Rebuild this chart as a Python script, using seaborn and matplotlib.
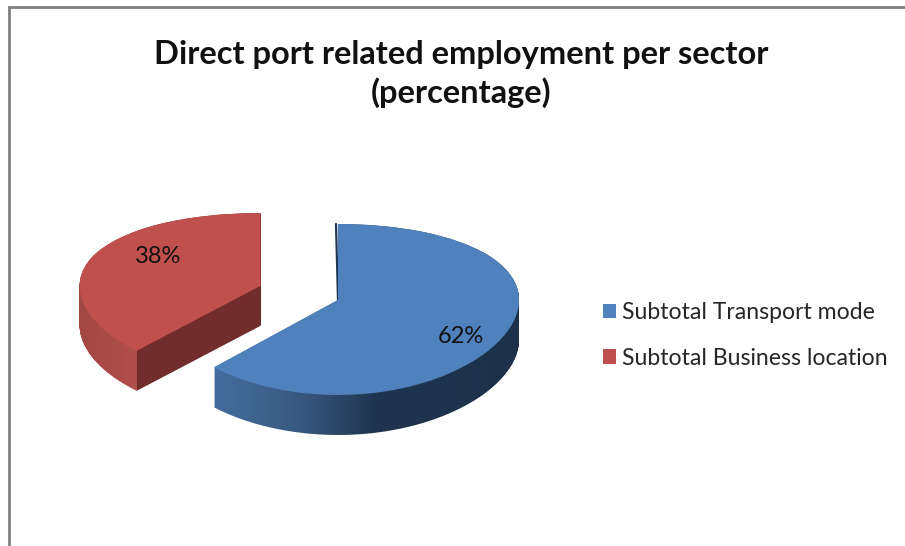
import numpy as np
import matplotlib
matplotlib.use('Agg')
import matplotlib.pyplot as plt
from matplotlib.colors import LinearSegmentedColormap
from matplotlib.path import Path
from matplotlib.patches import Rectangle
from matplotlib.transforms import IdentityTransform, ScaledTranslation
import seaborn as sns

labels = ['Subtotal Transport mode', 'Subtotal Business location']
values = [62, 38]
explode = [0, 0.46]
title = 'Direct port related employment per sector\n(percentage)'

sns.set_theme(style='white')
plt.rcParams['font.family'] = ['Lato', 'DejaVu Sans']
colors = sns.color_palette(['#4f81bd', '#c0504d'])

W, H = 905, 546
fig = plt.figure(figsize=(W / 100, H / 100), dpi=100)

# everything is in pixels here, y measured from the top
RX = 181
CX, CY = 338, 300
A, B = 85.5, 9.5  # fake perspective: back of the pie squashed, front stretched
DEPTH = 40


def forward(y):
    return A * y - B * y * y


def inverse(v):
    return (A - np.sqrt(np.maximum(A * A - 4 * B * v, 1e-6))) / (2 * B)


top_px, bot_px = 120, 480
side = fig.add_axes([0, 0, 1, 1], zorder=1)
side.set_xlim(0, W)
side.set_ylim(H, 0)
side.axis('off')

ax = fig.add_axes([0, 1 - bot_px / H, 1, (bot_px - top_px) / H], zorder=2)
wedges, _, pcts = ax.pie(values, colors=colors, startangle=90, counterclock=False,
                         explode=explode, autopct='%.0f%%', pctdistance=0.72,
                         wedgeprops={'linewidth': 0},
                         textprops={'fontsize': 17, 'color': '#111111'})
ax.set_aspect('auto')
ax.set_yscale('function', functions=(forward, inverse))
ax.set_xlim(-CX / RX, (W - CX) / RX)
ax.set_ylim(inverse(CY - bot_px), inverse(CY - top_px))
ax.axis('off')
fig.canvas.draw()

# side walls: x gradient image clipped to the swept top face
grads = [
    [(0.0, '#446d9e'), (0.28, '#39597f'), (0.52, '#1f3550'), (1.0, '#1c3049')],
    None,
]
for i, w in enumerate(wedges):
    p = w.get_path()
    verts = ax.transData.transform(p.vertices)
    parts = []
    for k in range(DEPTH + 1):
        shifted = verts.copy()
        shifted[:, 1] -= k
        parts.append(Path(shifted, p.codes))
    clip = Path.make_compound_path(*parts)
    x0, x1 = verts[:, 0].min(), verts[:, 0].max()
    if grads[i] is None:
        # outer arc lighter, cut face flat dark, hard step at the corner
        t = np.radians(w.theta2)
        corner = ax.transData.transform((w.center[0] + w.r * np.cos(t), w.center[1] + w.r * np.sin(t)))[0]
        f = (corner - x0) / (x1 - x0)
        stops = [(0.0, '#a34845'), (f - 0.001, '#b04e4b'), (f, '#702d2b'), (1.0, '#702d2b')]
    else:
        stops = grads[i]
    cmap = LinearSegmentedColormap.from_list('wall%d' % i, stops, N=1024)
    im = side.imshow(np.linspace(0, 1, 1024).reshape(1, -1), cmap=cmap, aspect='auto',
                     extent=(x0, x1, H, 0), interpolation='nearest')
    im.set_clip_path(clip, IdentityTransform())
side.set_xlim(0, W)
side.set_ylim(H, 0)

# thin dark back edge of the blue slice
side.plot([CX - 2, CX], [224, CY], color='#1f3550', lw=1.6, zorder=1)

# nudge the percent labels onto the spots they have in the chart
nudge = [(2, -13), (19, 8)]
for t, (dx, dy) in zip(pcts, nudge):
    t.set_transform(t.get_transform() + ScaledTranslation(dx / 100, dy / 100, fig.dpi_scale_trans))

fig.text(461 / W, 1 - 74 / H, title, ha='center', va='center', fontsize=23.5,
         fontweight='bold', color='#111111', linespacing=1.3)

leg = fig.legend(wedges, labels, loc='upper left', bbox_to_anchor=(603 / W, 1 - 302 / H),
                 frameon=False, fontsize=16.6, handlelength=0.57, handleheight=0.57,
                 handletextpad=0.26, labelspacing=1.07, borderpad=0, borderaxespad=0)

# chart area border, only top and left fall inside the crop
fig.add_artist(Rectangle((9 / W, -0.1), 1.2, 1 - 7 / H + 0.1, transform=fig.transFigure,
                         fill=False, ec='#808080', lw=2))

fig.savefig('out.png', dpi=100)
